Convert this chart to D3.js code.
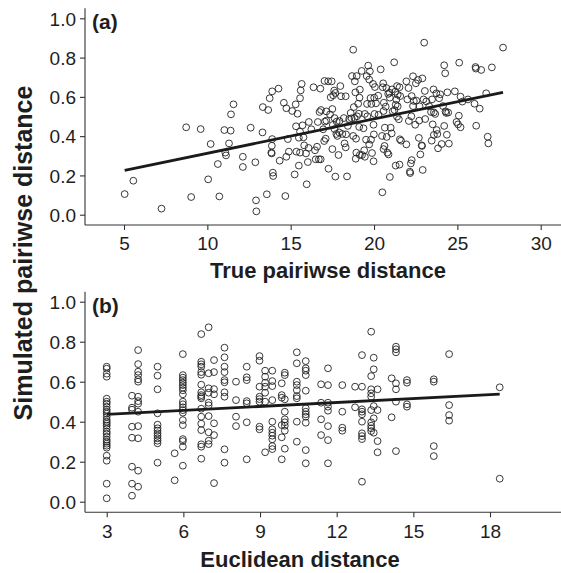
<!DOCTYPE html>
<html>
<head>
<meta charset="utf-8">
<script src="https://cdn.jsdelivr.net/npm/d3@7"></script>
<style>
  html, body { margin: 0; padding: 0; background: #fff; }
  svg text { font-family: "Liberation Sans", Arial, Helvetica, sans-serif; fill: #1e1e1e; }
</style>
</head>
<body>
<svg id="chart" width="561" height="573"></svg>
<script>
// ---------- Panel (a): true pairwise distance vs simulated pairwise distance ----------
const trueDist = [5.04,5.56,7.25,8.73,9.03,9.6,10.05,10.2,10.63,10.72,11.02,11.08,11.12,11.3,11.4,11.42,11.57,12.13,12.13,12.6,12.88,12.92,12.94,13.33,13.31,13.57,13.65,13.74,13.89,13.87,13.84,13.86,13.93,13.95,13.89,14.27,14.34,14.59,14.68,14.74,14.74,14.83,14.89,15.09,15.24,15.3,15.32,15.34,15.41,15.49,15.56,15.56,15.6,15.66,15.56,15.49,15.71,15.77,15.81,15.92,15.96,16.03,16.07,16.09,16.24,16.37,16.46,16.5,16.58,16.63,16.69,16.73,16.78,16.8,16.82,16.95,17.01,17.03,17.05,17.1,17.14,17.14,17.25,17.27,17.36,17.4,17.46,17.5,17.5,17.53,17.55,17.61,17.63,17.63,17.68,17.68,17.76,17.74,17.8,17.87,17.91,17.93,17.98,18.02,18.1,18.19,18.23,18.3,18.3,18.32,18.38,18.43,18.51,18.6,18.66,18.68,18.75,18.75,18.79,18.83,18.85,18.88,18.9,18.92,18.94,18.96,18.98,19.05,19.09,19.11,19.13,19.15,19.15,19.26,19.28,19.37,19.41,19.45,19.45,19.52,19.56,19.58,19.6,19.65,19.71,19.71,19.75,19.79,19.82,19.84,19.88,19.94,19.97,19.97,19.99,20.01,20.03,20.05,20.12,20.25,20.27,20.4,20.48,20.5,20.52,20.57,20.55,20.57,20.59,20.63,20.65,20.7,20.74,20.76,20.8,20.85,20.87,20.93,20.95,20.95,21.0,21.06,21.08,21.12,21.21,21.23,21.27,21.3,21.3,21.34,21.38,21.38,21.42,21.42,21.49,21.53,21.53,21.55,21.57,21.62,21.94,21.94,22.0,22.07,22.09,22.15,22.17,22.21,22.24,22.26,22.26,22.34,22.34,22.39,22.47,22.51,22.54,22.64,22.69,22.71,22.73,22.78,22.86,22.88,22.9,22.92,22.97,23.01,23.05,23.07,23.14,23.31,23.42,23.46,23.48,23.52,23.57,23.59,23.59,23.67,23.74,23.76,23.8,23.84,23.91,23.97,24.06,24.14,24.21,24.21,24.27,24.29,24.33,24.37,24.4,24.45,24.49,24.85,24.95,25.04,25.09,25.11,25.19,25.19,25.3,25.64,26.03,26.09,26.11,26.13,26.34,26.43,26.82,26.86,26.73,27.07,27.74];
const simDistA = [0.105,0.173,0.031,0.445,0.09,0.436,0.18,0.36,0.258,0.093,0.431,0.316,0.302,0.363,0.428,0.511,0.562,0.295,0.243,0.443,0.267,0.073,0.017,0.548,0.419,0.104,0.533,0.593,0.385,0.351,0.316,0.312,0.214,0.197,0.628,0.642,0.275,0.57,0.095,0.295,0.542,0.385,0.321,0.528,0.205,0.562,0.45,0.321,0.514,0.25,0.316,0.593,0.633,0.666,0.423,0.392,0.455,0.394,0.353,0.312,0.155,0.268,0.34,0.472,0.435,0.649,0.328,0.282,0.346,0.472,0.282,0.523,0.642,0.282,0.533,0.435,0.375,0.681,0.474,0.387,0.526,0.479,0.679,0.234,0.511,0.598,0.679,0.538,0.334,0.457,0.608,0.632,0.436,0.492,0.194,0.62,0.474,0.411,0.401,0.304,0.419,0.477,0.655,0.603,0.411,0.492,0.363,0.603,0.343,0.409,0.195,0.452,0.487,0.518,0.491,0.706,0.84,0.401,0.548,0.492,0.679,0.623,0.285,0.387,0.316,0.706,0.501,0.565,0.514,0.447,0.596,0.637,0.304,0.732,0.304,0.44,0.328,0.295,0.513,0.382,0.706,0.564,0.501,0.759,0.688,0.358,0.73,0.594,0.382,0.564,0.314,0.666,0.272,0.458,0.409,0.596,0.513,0.65,0.567,0.606,0.508,0.74,0.401,0.114,0.649,0.334,0.669,0.528,0.57,0.35,0.443,0.55,0.645,0.396,0.316,0.615,0.307,0.621,0.596,0.192,0.443,0.414,0.638,0.526,0.776,0.533,0.626,0.56,0.25,0.586,0.655,0.499,0.552,0.611,0.486,0.649,0.255,0.384,0.604,0.377,0.358,0.679,0.587,0.645,0.477,0.219,0.212,0.261,0.501,0.278,0.604,0.705,0.553,0.579,0.458,0.669,0.581,0.686,0.391,0.479,0.552,0.307,0.353,0.35,0.694,0.228,0.587,0.876,0.63,0.487,0.577,0.552,0.523,0.377,0.587,0.46,0.638,0.521,0.406,0.513,0.618,0.431,0.411,0.338,0.593,0.613,0.36,0.553,0.761,0.452,0.72,0.526,0.518,0.407,0.623,0.52,0.362,0.628,0.472,0.46,0.504,0.774,0.601,0.445,0.576,0.587,0.565,0.752,0.744,0.453,0.54,0.737,0.397,0.363,0.618,0.75,0.851];
const fitAx = [5.04, 27.74];
const fitAy = [0.226, 0.623];
const ticksAx = [5, 10, 15, 20, 25, 30];

// ---------- Panel (b): Euclidean distance (columns) vs simulated pairwise distance ----------
const eucCols = [3.0,3.99,4.23,4.99,5.66,5.98,6.70,6.99,7.20,7.61,8.06,8.48,8.98,9.20,9.48,9.85,9.97,10.44,10.79,11.39,11.66,12.22,12.72,12.99,13.35,13.45,13.60,14.15,14.32,14.75,15.80,16.40,18.38];
const simByCol = [
  [0.675,0.665,0.64,0.625,0.515,0.50,0.49,0.475,0.46,0.45,0.44,0.425,0.41,0.40,0.39,0.38,0.365,0.35,0.34,0.325,0.31,0.30,0.29,0.28,0.27,0.23,0.205,0.09,0.017],
  [0.53,0.47,0.46,0.375,0.32,0.175,0.09,0.03],
  [0.758,0.688,0.65,0.633,0.612,0.6,0.525,0.503,0.49,0.45,0.378,0.317,0.155,0.075],
  [0.675,0.63,0.562,0.442,0.385,0.367,0.355,0.342,0.33,0.317,0.305,0.292,0.195],
  [0.242,0.107],
  [0.738,0.633,0.62,0.608,0.595,0.583,0.57,0.557,0.537,0.5,0.487,0.472,0.458,0.445,0.408,0.383,0.313,0.303,0.275,0.18],
  [0.838,0.7,0.687,0.675,0.648,0.635,0.585,0.547,0.533,0.525,0.517,0.465,0.425,0.39,0.358,0.287,0.275,0.215],
  [0.872,0.642,0.567,0.545,0.495,0.482,0.428,0.347,0.305,0.288],
  [0.708,0.648,0.563,0.537,0.392,0.333,0.093],
  [0.77,0.722,0.675,0.648,0.608,0.597,0.547,0.525,0.262,0.195],
  [0.6,0.508,0.425,0.378],
  [0.675,0.622,0.608,0.503,0.492,0.397,0.212],
  [0.728,0.705,0.575,0.525,0.513,0.5,0.375,0.362],
  [0.655,0.625,0.595,0.575,0.545,0.5,0.247],
  [0.655,0.603,0.578,0.508,0.4,0.362,0.345,0.33,0.312,0.278,0.263],
  [0.592,0.533,0.52,0.383,0.322,0.212],
  [0.645,0.633,0.512,0.45,0.412,0.397,0.38,0.355,0.265],
  [0.747,0.692,0.6,0.583,0.558,0.528,0.517,0.4,0.3],
  [0.703,0.667,0.655,0.633,0.555,0.467,0.45,0.437,0.425,0.395,0.258,0.192],
  [0.587,0.495,0.412,0.333],
  [0.667,0.583,0.495,0.475,0.455,0.378,0.308,0.192],
  [0.583,0.45,0.37,0.355],
  [0.575,0.472],
  [0.733,0.575,0.462,0.45,0.437,0.4,0.342,0.328,0.313,0.1],
  [0.85,0.628,0.562,0.542,0.525,0.458,0.397,0.38,0.367,0.353],
  [0.72,0.662,0.478,0.417,0.345],
  [0.562,0.458,0.303,0.247],
  [0.617,0.422],
  [0.775,0.762,0.747,0.592,0.562,0.5,0.253],
  [0.608,0.595,0.487,0.475],
  [0.612,0.6,0.278,0.228],
  [0.738,0.483,0.433,0.405],
  [0.572,0.115]
];
const fitBx = [3.0, 18.38];
const fitBy = [0.437, 0.538];
const ticksBx = [3, 6, 9, 12, 15, 18];
const ticksY = [0, 0.2, 0.4, 0.6, 0.8, 1.0];

const panelLabels = ["(a)", "(b)"];
const xTitles = ["True pairiwse distance", "Euclidean distance"];
const yTitle = "Simulated pairiwse distance";

// ---------- drawing ----------
const svg = d3.select("#chart");
const AXIS_X = 85;
const W = 561;

const ptsA = trueDist.map((x, i) => [x, simDistA[i]]);
const ptsB = [];
eucCols.forEach((x, i) => simByCol[i].forEach(y => ptsB.push([x, y])));

const panels = [
  {
    pts: ptsA, fx: fitAx, fy: fitAy, xticks: ticksAx, label: panelLabels[0], title: xTitles[0],
    x: d3.scaleLinear().domain([5, 30]).range([124, 540.7]),
    y: d3.scaleLinear().domain([0, 1]).range([214.7, 18.3]),
    top: 8.3, bottom: 225, labelY: 29, titleX: 328, titleY: 278, tickLabY: 250
  },
  {
    pts: ptsB, fx: fitBx, fy: fitBy, xticks: ticksBx, label: panelLabels[1], title: xTitles[1],
    x: d3.scaleLinear().domain([3, 18]).range([106.7, 490]),
    y: d3.scaleLinear().domain([0, 1]).range([501.7, 301.7]),
    top: 291.7, bottom: 512.3, labelY: 313, titleX: 300, titleY: 567, tickLabY: 538.5
  }
];

panels.forEach(p => {
  const g = svg.append("g");
  // L-shaped frame
  g.append("line").attr("x1", AXIS_X).attr("x2", AXIS_X).attr("y1", p.top).attr("y2", p.bottom)
    .attr("stroke", "#333").attr("stroke-width", 1.1);
  g.append("line").attr("x1", AXIS_X).attr("x2", W).attr("y1", p.bottom).attr("y2", p.bottom)
    .attr("stroke", "#333").attr("stroke-width", 1.1);

  // y axis ticks
  const yAxis = d3.axisLeft(p.y).tickValues(ticksY).tickSize(5).tickPadding(4)
    .tickFormat(d3.format(".1f"));
  const ya = g.append("g").attr("transform", `translate(${AXIS_X},0)`).call(yAxis);
  ya.select(".domain").remove();
  ya.selectAll(".tick line").attr("stroke", "#333").attr("stroke-width", 1.1);
  ya.selectAll(".tick text").attr("font-size", 19).attr("fill", "#222")
    .attr("font-family", "Liberation Sans, Arial, sans-serif").attr("dy", "0.36em");

  // x axis ticks
  const xAxis = d3.axisBottom(p.x).tickValues(p.xticks).tickSize(5).tickPadding(4)
    .tickFormat(d3.format("d"));
  const xa = g.append("g").attr("transform", `translate(0,${p.bottom})`).call(xAxis);
  xa.select(".domain").remove();
  xa.selectAll(".tick line").attr("stroke", "#333").attr("stroke-width", 1.1);
  xa.selectAll(".tick text").attr("font-size", 19).attr("fill", "#222")
    .attr("font-family", "Liberation Sans, Arial, sans-serif")
    .attr("y", null).attr("dy", null)
    .attr("y", p.tickLabY - p.bottom);

  // points
  g.append("g").selectAll("circle").data(p.pts).join("circle")
    .attr("cx", d => p.x(d[0])).attr("cy", d => p.y(d[1])).attr("r", 3.4)
    .attr("fill", "none").attr("stroke", "#222").attr("stroke-width", 0.9);

  // regression line
  const line = d3.line().x(d => p.x(d[0])).y(d => p.y(d[1]));
  g.append("path").datum(p.fx.map((x, i) => [x, p.fy[i]])).attr("d", line)
    .attr("fill", "none").attr("stroke", "#1a1a1a").attr("stroke-width", 2.8);

  // panel label
  g.append("text").attr("x", 92).attr("y", p.labelY).attr("font-size", 21)
    .attr("font-weight", "bold").text(p.label);

  // x title
  g.append("text").attr("x", p.titleX).attr("y", p.titleY).attr("text-anchor", "middle")
    .attr("font-size", 22).attr("font-weight", "bold").text(p.title);
});

// y title (shared)
svg.append("text")
  .attr("transform", "translate(32,253) rotate(-90)")
  .attr("text-anchor", "middle").attr("font-size", 25).attr("font-weight", "bold")
  .text(yTitle);
</script>
</body>
</html>
